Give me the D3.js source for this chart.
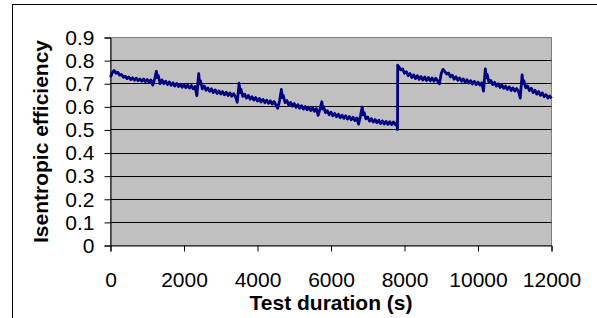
<!DOCTYPE html>
<html lang="en">
<head>
<meta charset="utf-8">
<title>Isentropic efficiency vs test duration</title>
<script src="https://d3js.org/d3.v7.min.js"></script>
<style>
  body { margin: 0; background: #fff; }
  text { font-family: Arial, "Liberation Sans", sans-serif; fill: #000; }
</style>
</head>
<body>
<script>
// test time (s)
var times = [
  0, 50, 100, 150, 200, 250, 300, 350, 400, 450, 500, 550, 600, 650, 700, 750, 800, 850, 900, 950, 1000, 1050, 1100, 1150, 1200, 1250, 1275, 1300, 1350, 1400,
  1450, 1500, 1550, 1600, 1650, 1700, 1750, 1800, 1850, 1900, 1950, 2000, 2050, 2100, 2150, 2200, 2250, 2300, 2350, 2400, 2425, 2450, 2500,
  2550, 2600, 2650, 2700, 2750, 2800, 2850, 2900, 2950, 3000, 3050, 3100, 3150, 3200, 3250, 3300, 3350, 3400, 3450, 3500, 3525, 3550, 3600,
  3650, 3700, 3750, 3800, 3850, 3900, 3950, 4000, 4050, 4100, 4150, 4200, 4250, 4300, 4350, 4400, 4450, 4500, 4550, 4600, 4650, 4675, 4700, 4750,
  4800, 4850, 4900, 4950, 5000, 5050, 5100, 5150, 5200, 5250, 5300, 5350, 5400, 5450, 5500, 5550, 5600, 5650, 5700, 5750, 5775, 5800, 5850,
  5900, 5950, 6000, 6050, 6100, 6150, 6200, 6250, 6300, 6350, 6400, 6450, 6500, 6550, 6600, 6650, 6700, 6750, 6800, 6850, 6875, 6900, 6950,
  7000, 7050, 7100, 7150, 7200, 7250, 7300, 7350, 7400, 7450, 7500, 7550, 7600, 7650, 7700, 7750, 7790, 7810, 7815,
  7850, 7900, 7950, 8000, 8050, 8100, 8150, 8200, 8250, 8300, 8350, 8400, 8450, 8500, 8550, 8600, 8650, 8700, 8750, 8800, 8850, 8900, 8950, 9000, 9050, 9100,
  9150, 9200, 9250, 9300, 9350, 9400, 9450, 9500, 9550, 9600, 9650, 9700, 9750, 9800, 9850, 9900, 9950, 10000, 10050, 10100, 10150, 10200, 10225, 10250, 10300,
  10350, 10400, 10450, 10500, 10550, 10600, 10650, 10700, 10750, 10800, 10850, 10900, 10950, 11000, 11050, 11100, 11150, 11200, 11225, 11250, 11300,
  11350, 11400, 11450, 11500, 11550, 11600, 11650, 11700, 11750, 11800, 11850, 11900, 11950, 12000];

// isentropic efficiency
var efficiency = [
  0.728, 0.748, 0.757, 0.746, 0.749, 0.737, 0.740, 0.728, 0.733, 0.722, 0.729, 0.718, 0.726, 0.715, 0.724, 0.713, 0.721, 0.711, 0.720, 0.709, 0.718, 0.707, 0.716, 0.694, 0.720, 0.754, 0.726, 0.735, 0.700, 0.716,
  0.700, 0.711, 0.697, 0.708, 0.693, 0.704, 0.690, 0.701, 0.688, 0.698, 0.685, 0.696, 0.683, 0.694, 0.681, 0.692, 0.678, 0.688, 0.648, 0.744, 0.700, 0.712, 0.678,
  0.690, 0.672, 0.682, 0.667, 0.678, 0.662, 0.673, 0.658, 0.669, 0.655, 0.666, 0.652, 0.663, 0.649, 0.660, 0.646, 0.657, 0.644, 0.620, 0.702, 0.662, 0.676, 0.645,
  0.655, 0.638, 0.649, 0.633, 0.644, 0.629, 0.640, 0.625, 0.636, 0.621, 0.632, 0.618, 0.629, 0.615, 0.626, 0.612, 0.623, 0.609, 0.594, 0.625, 0.675, 0.640, 0.650, 0.618,
  0.627, 0.608, 0.619, 0.603, 0.614, 0.598, 0.609, 0.594, 0.605, 0.590, 0.601, 0.587, 0.598, 0.584, 0.595, 0.581, 0.592, 0.563, 0.590, 0.622, 0.590, 0.600, 0.575,
  0.583, 0.566, 0.577, 0.561, 0.572, 0.557, 0.568, 0.553, 0.564, 0.550, 0.561, 0.547, 0.558, 0.544, 0.555, 0.541, 0.552, 0.525, 0.560, 0.599, 0.565, 0.575, 0.548,
  0.556, 0.538, 0.549, 0.534, 0.545, 0.531, 0.542, 0.528, 0.539, 0.526, 0.537, 0.524, 0.536, 0.523, 0.535, 0.522, 0.532, 0.502, 0.780,
  0.772, 0.760, 0.764, 0.745, 0.752, 0.735, 0.744, 0.727, 0.738, 0.722, 0.735, 0.719, 0.731, 0.716, 0.729, 0.714, 0.727, 0.712, 0.725, 0.711, 0.724, 0.712, 0.700, 0.745, 0.762, 0.752,
  0.742, 0.746, 0.730, 0.737, 0.720, 0.730, 0.715, 0.725, 0.711, 0.721, 0.707, 0.717, 0.703, 0.713, 0.699, 0.710, 0.696, 0.707, 0.694, 0.704, 0.668, 0.764, 0.725, 0.740, 0.705,
  0.714, 0.696, 0.706, 0.690, 0.700, 0.684, 0.695, 0.680, 0.690, 0.675, 0.686, 0.671, 0.682, 0.668, 0.679, 0.668, 0.638, 0.738, 0.700, 0.712, 0.682,
  0.690, 0.670, 0.680, 0.662, 0.672, 0.655, 0.666, 0.650, 0.660, 0.644, 0.653, 0.638, 0.647, 0.636];

var xTicks = [0, 2000, 4000, 6000, 8000, 10000, 12000];
var yTicks = [0, 0.1, 0.2, 0.3, 0.4, 0.5, 0.6, 0.7, 0.8, 0.9];

var w = 597, h = 318;
var plotL = 110.5, plotR = 551.5, plotT = 37.5, plotB = 245.5;

var svg = d3.select("body").append("svg")
  .attr("width", w)
  .attr("height", h);

// outer frame (runs off the right and bottom edge)
svg.append("rect")
  .attr("x", 12.5).attr("y", 4.5)
  .attr("width", w).attr("height", h)
  .attr("fill", "#fff")
  .attr("stroke", "#000");

var x = d3.scaleLinear().domain([0, 12000]).range([plotL, plotR]);
var y = d3.scaleLinear().domain([0, 0.9]).range([plotB, plotT]);

// plot area
svg.append("rect")
  .attr("x", plotL).attr("y", plotT)
  .attr("width", plotR - plotL).attr("height", plotB - plotT)
  .attr("fill", "#c0c0c0")
  .attr("stroke", "#808080");

// gridlines
svg.append("g").selectAll("line")
  .data(yTicks.filter(function(d) { return d > 0 && d < 0.85; }))
  .enter().append("line")
  .attr("x1", plotL).attr("x2", plotR)
  .attr("y1", function(d) { return Math.round(y(d) - 0.5) + 0.5; })
  .attr("y2", function(d) { return Math.round(y(d) - 0.5) + 0.5; })
  .attr("stroke", "#000");

// axes
var yAxis = d3.axisLeft(y).tickValues(yTicks).tickSize(6).tickPadding(10)
  .tickFormat(function(d) { return d === 0 ? "0" : d3.format(".1f")(d); });
var gy = svg.append("g").attr("transform", "translate(" + plotL + ",0)").call(yAxis);

var xAxis = d3.axisBottom(x).tickValues(xTicks).tickSize(6).tickPadding(21)
  .tickFormat(d3.format("d"));
var gx = svg.append("g").attr("transform", "translate(0," + plotB + ")").call(xAxis);

[gy, gx].forEach(function(g) {
  g.select(".domain").attr("stroke", "#000");
  g.selectAll(".tick line").attr("stroke", "#000");
  g.selectAll(".tick text")
    .style("font-family", "Arial, 'Liberation Sans', sans-serif")
    .style("font-size", "21px")
    .attr("fill", "#000");
});

// data line
var line = d3.line()
  .x(function(d, i) { return x(times[i]); })
  .y(function(d) { return y(d); });

svg.append("path")
  .datum(efficiency)
  .attr("d", line)
  .attr("fill", "none")
  .attr("stroke", "#000080")
  .attr("stroke-width", 2.8)
  .attr("stroke-linejoin", "round");

// axis titles
svg.append("text")
  .attr("x", (plotL + plotR) / 2)
  .attr("y", 310)
  .attr("text-anchor", "middle")
  .style("font-size", "21px")
  .style("font-weight", "bold")
  .text("Test duration (s)");

svg.append("text")
  .attr("transform", "translate(48," + (plotT + plotB) / 2 + ") rotate(-90)")
  .attr("text-anchor", "middle")
  .style("font-size", "21px")
  .style("font-weight", "bold")
  .text("Isentropic efficiency");
</script>
</body>
</html>
